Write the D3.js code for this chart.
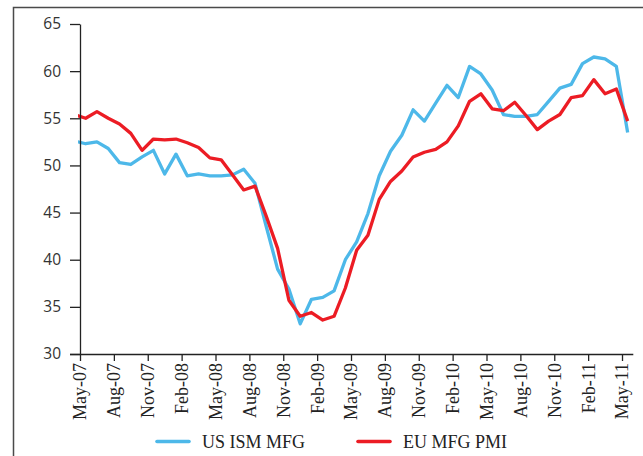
<!DOCTYPE html>
<html><head><meta charset="utf-8">
<script src="https://cdn.jsdelivr.net/npm/d3@7"></script>
<style>body{margin:0;background:#fff}svg{display:block}</style>
</head><body>
<svg id="c" width="643" height="456"></svg>
<script>
// Monthly categories (first one, Apr-07, lies just before the axis and is clipped)
const months = ["Apr-07","May-07","Jun-07","Jul-07","Aug-07","Sep-07","Oct-07","Nov-07","Dec-07",
 "Jan-08","Feb-08","Mar-08","Apr-08","May-08","Jun-08","Jul-08","Aug-08","Sep-08","Oct-08","Nov-08","Dec-08",
 "Jan-09","Feb-09","Mar-09","Apr-09","May-09","Jun-09","Jul-09","Aug-09","Sep-09","Oct-09","Nov-09","Dec-09",
 "Jan-10","Feb-10","Mar-10","Apr-10","May-10","Jun-10","Jul-10","Aug-10","Sep-10","Oct-10","Nov-10","Dec-10",
 "Jan-11","Feb-11","Mar-11","Apr-11","May-11"];
const usIsm = [52.6,
 52.3,52.5,51.8,50.3,50.1,50.9,51.6,49.1,51.2,48.9,
 49.1,48.9,48.9,49.0,49.6,48.1,43.5,39.0,36.9,33.2,
 35.8,36.0,36.7,40.0,41.9,44.9,48.9,51.5,53.2,55.9,
 54.7,56.6,58.5,57.2,60.5,59.7,58.0,55.4,55.2,55.2,
 55.4,56.8,58.2,58.6,60.8,61.5,61.3,60.5,53.5];
const euPmi = [55.4,
 55.0,55.7,55.0,54.4,53.4,51.6,52.8,52.7,52.8,52.4,
 51.9,50.8,50.6,49.0,47.4,47.8,44.6,41.2,35.7,34.0,
 34.4,33.6,34.0,37.0,41.0,42.6,46.4,48.3,49.4,50.9,
 51.4,51.7,52.5,54.2,56.8,57.6,56.0,55.8,56.7,55.3,
 53.8,54.7,55.4,57.2,57.4,59.1,57.6,58.1,54.7];
const yTicks = [30,35,40,45,50,55,60,65];
const xTickLabels = ["May-07","Aug-07","Nov-07","Feb-08","May-08","Aug-08","Nov-08","Feb-09",
 "May-09","Aug-09","Nov-09","Feb-10","May-10","Aug-10","Nov-10","Feb-11","May-11"];
const seriesNames = ["US ISM MFG","EU MFG PMI"];
const seriesColors = ["#4db8e9","#ec1c24"];

const svg = d3.select("#c");
const L = 80, R = 633.3, T = 24, B = 354;
const nCat = months.length - 1; // categories on the axis (May-07 .. May-11)
const x = d3.scaleLinear().domain([0, nCat]).range([L, R]);
const y = d3.scaleLinear().domain([30, 65]).range([B, T]);
const px = i => x(i - 1 + 0.5);

// outer frame
svg.append("path").attr("d", `M13.5,460 L13.5,7.5 L650,7.5`)
  .attr("fill","none").attr("stroke","#4a4a4a").attr("stroke-width",1.5);

svg.append("clipPath").attr("id","pc").append("rect")
  .attr("x", L - 2).attr("y", 0).attr("width", 600).attr("height", 456);

const line = d3.line().x((d,i)=>px(i)).y(d=>y(d));
const g = svg.append("g").attr("clip-path","url(#pc)");
[usIsm, euPmi].forEach((s,k)=>{
  g.append("path").datum(s).attr("d", line).attr("fill","none")
   .attr("stroke", seriesColors[k]).attr("stroke-width",3.3)
   .attr("stroke-linejoin","round");
});

// y axis
const yAxis = d3.axisLeft(y).tickValues(yTicks).tickSize(10).tickSizeOuter(0).tickPadding(9);
const ya = svg.append("g").attr("transform",`translate(${L},0)`).call(yAxis);
ya.select(".domain").attr("stroke","#222").attr("stroke-width",1.3);
ya.selectAll(".tick line").attr("stroke","#222").attr("stroke-width",1.3);
ya.selectAll(".tick text").attr("font-family","'Open Sans', 'Noto Sans', sans-serif")
  .attr("font-size",15.5).attr("fill","#333");

// x axis
const tickIdx = xTickLabels.map(m => months.indexOf(m) - 1);
const xAxis = d3.axisBottom(x).tickValues(tickIdx).tickFormat((d,i)=>xTickLabels[i])
  .tickSize(7).tickSizeOuter(0);
const xa = svg.append("g").attr("transform",`translate(0,${B})`).call(xAxis);
xa.select(".domain").attr("d", `M${L-10},0.5H${R}`).attr("stroke","#222").attr("stroke-width",1.3);
xa.selectAll(".tick line").attr("stroke","#222").attr("stroke-width",1.3);
xa.selectAll(".tick text")
  .attr("font-family","'Liberation Serif', serif").attr("font-size",18).attr("fill","#222")
  .attr("transform","rotate(-90)").attr("text-anchor","end")
  .attr("x",-9).attr("y",0).attr("dy","0.33em");

// legend
const lg = svg.append("g");
const lx = [157, 358], tx = [202, 403];
seriesNames.forEach((n,k)=>{
  lg.append("line").attr("x1",lx[k]).attr("x2",lx[k]+32).attr("y1",441.5).attr("y2",441.5)
    .attr("stroke",seriesColors[k]).attr("stroke-width",3.6).attr("stroke-linecap","round");
  lg.append("text").attr("x",tx[k]).attr("y",447.5).text(n)
    .attr("font-family","'Liberation Serif', serif").attr("font-size",18).attr("fill","#222");
});
</script>
</body></html>
